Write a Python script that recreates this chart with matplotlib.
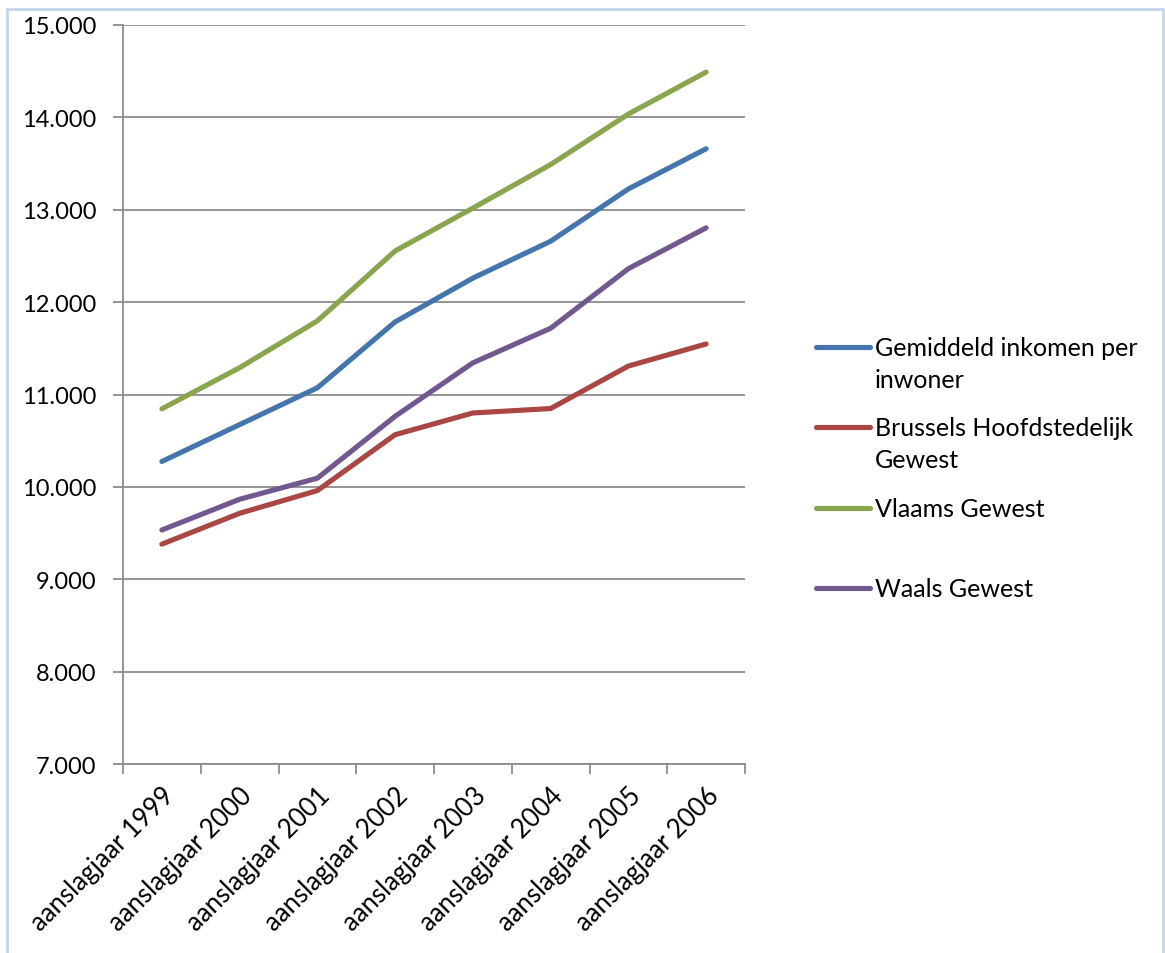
import matplotlib.pyplot as plt
import numpy as np
from matplotlib.lines import Line2D
from matplotlib.patches import Rectangle
from matplotlib.ticker import FuncFormatter

plt.rcParams['font.family'] = ['Lato', 'DejaVu Sans']

years = ['aanslagjaar 1999', 'aanslagjaar 2000', 'aanslagjaar 2001', 'aanslagjaar 2002',
         'aanslagjaar 2003', 'aanslagjaar 2004', 'aanslagjaar 2005', 'aanslagjaar 2006']
gemiddeld = [10275, 10674, 11073, 11786, 12260, 12659, 13225, 13660]
brussel = [9380, 9714, 9960, 10565, 10800, 10848, 11308, 11547]
vlaams = [10845, 11290, 11797, 12554, 13018, 13489, 14036, 14490]
waals = [9533, 9866, 10094, 10764, 11343, 11717, 12362, 12804]

labels = ['Gemiddeld inkomen per\ninwoner', 'Brussels Hoofdstedelijk\nGewest', 'Vlaams Gewest', 'Waals Gewest']
colors = ['#4475AD', '#AA4643', '#89A54E', '#71588F']
series = [gemiddeld, brussel, vlaams, waals]

W, H = 1165, 954
fig = plt.figure(figsize=(W / 100, H / 100), dpi=100)
ax = fig.add_axes([123 / W, 1 - 765 / H, (745 - 123) / W, (765 - 26) / H])

x = np.arange(len(years))
for vals, c in zip(series, colors):
    ax.plot(x, vals, color=c, lw=3.7, solid_capstyle='round', solid_joinstyle='round', zorder=3)

ax.set_ylim(7000, 15000)
ax.set_yticks(np.arange(7000, 15001, 1000))
ax.yaxis.set_major_formatter(FuncFormatter(lambda v, p: f'{v:,.0f}'.replace(',', '.')))
ax.grid(axis='y', color='#8c8c8c', lw=1.3)
ax.set_axisbelow(True)

ax.set_xlim(-0.5, len(years) - 0.5)
ax.set_xticks(np.arange(-0.5, len(years), 1))
ax.set_xticklabels([])
ax.set_xticks(x, minor=True)
ax.set_xticklabels(years, minor=True, rotation=45, ha='right', va='top', rotation_mode='anchor')
ax.tick_params(axis='x', which='minor', length=0, pad=13, labelsize=18.5)
ax.tick_params(axis='x', which='major', length=7, color='#8c8c8c', width=1.3)
ax.tick_params(axis='y', length=7, color='#8c8c8c', width=1.3, labelsize=17, pad=12)

for s in ['top', 'right']:
    ax.spines[s].set_visible(False)
for s in ['left', 'bottom']:
    ax.spines[s].set_color('#8c8c8c')
    ax.spines[s].set_linewidth(1.3)

# legend drawn by hand, Excel-style: handle aligned with first text line
leg_y = [348, 428, 509, 589]
for lab, c, yy in zip(labels, colors, leg_y):
    fy = 1 - yy / H
    fig.add_artist(Line2D([816 / W, 870 / W], [fy, fy], color=c, lw=3.7, solid_capstyle='round'))
    fig.text(875 / W, 1 - (yy - 11) / H, lab, fontsize=18, va='top', ha='left', linespacing=1.5)

fig.add_artist(Rectangle((7 / W, -0.05), (1163 - 7) / W, 1.05 - 10 / H, transform=fig.transFigure,
                         fill=False, edgecolor='#c5d5ec', lw=2))

fig.savefig('out.png', dpi=100)
